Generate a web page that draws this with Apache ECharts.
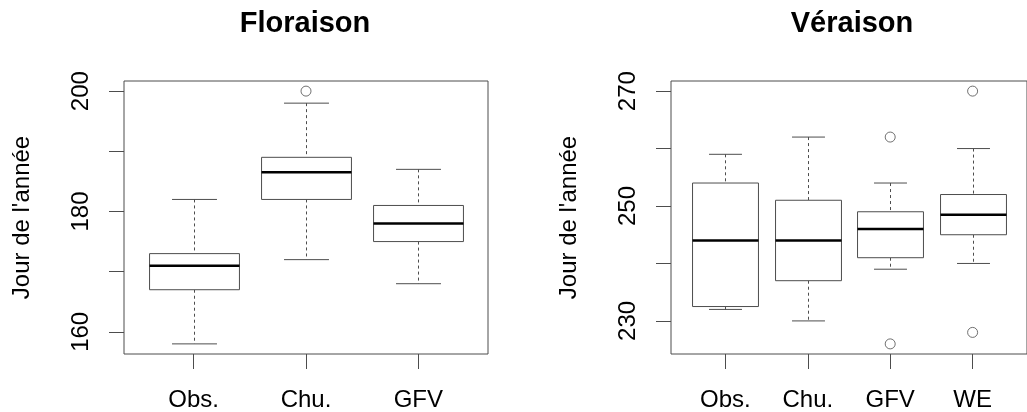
<!DOCTYPE html>
<html>
<head>
<meta charset="utf-8">
<script src="https://cdn.jsdelivr.net/npm/echarts@6/dist/echarts.min.js"></script>
<style>
  html, body { margin: 0; padding: 0; background: #fff; }
  #chart { width: 1027px; height: 412px; }
</style>
</head>
<body>
<div id="chart"></div>
<script>
// Floraison: five-number summaries [lower whisker, Q1, median, Q3, upper whisker]
const floraisonCats = ['Obs.', 'Chu.', 'GFV'];
const floraisonStats = [
  [158, 167, 171, 173, 182],
  [172, 182, 186.5, 189, 198],
  [168, 175, 178, 181, 187]
];
// outliers as [category number (1-based), value]
const floraisonOutliers = [[2, 200]];
const floraisonTicks = [160, 170, 180, 190, 200];
const floraisonLabels = [160, 180, 200];

// Véraison
const veraisonCats = ['Obs.', 'Chu.', 'GFV', 'WE'];
const veraisonStats = [
  [232, 232.5, 244, 254, 259],
  [230, 237, 244, 251, 262],
  [239, 241, 246, 249, 254],
  [240, 245, 248.5, 252, 260]
];
const veraisonOutliers = [[3, 262], [3, 226], [4, 270], [4, 228]];
const veraisonTicks = [230, 240, 250, 260, 270];
const veraisonLabels = [230, 250, 270];

const FONT = 'Liberation Sans, Arial, sans-serif';
const LINE = '#4d4d4d';

// R-style 4% padding of the data range
function padRange(stats, outliers) {
  const vals = stats.flat().concat(outliers.map(o => o[1]));
  const lo = Math.min(...vals), hi = Math.max(...vals);
  const p = (hi - lo) * 0.04;
  return [lo - p, hi + p];
}
function xRange(n) {
  const p = n * 0.04;
  return [0.5 - p, n + 0.5 + p];
}

function renderBox(params, api) {
  const x = api.value(0);
  const low = api.coord([x, api.value(1)]);
  const q1 = api.coord([x, api.value(2)]);
  const med = api.coord([x, api.value(3)]);
  const q3 = api.coord([x, api.value(4)]);
  const high = api.coord([x, api.value(5)]);
  const bw = api.size([0.8, 0])[0];
  const cw = bw / 2;
  const cx = Math.round(low[0]) + 0.5;
  const dash = { stroke: LINE, lineWidth: 1, lineDash: [3, 3] };
  const solid = { stroke: LINE, lineWidth: 1 };
  return {
    type: 'group',
    children: [
      { type: 'line', shape: { x1: cx, y1: high[1], x2: cx, y2: q3[1] }, style: dash },
      { type: 'line', shape: { x1: cx, y1: q1[1], x2: cx, y2: low[1] }, style: dash },
      { type: 'line', shape: { x1: cx - cw / 2, y1: high[1], x2: cx + cw / 2, y2: high[1] }, style: solid },
      { type: 'line', shape: { x1: cx - cw / 2, y1: low[1], x2: cx + cw / 2, y2: low[1] }, style: solid },
      { type: 'rect', shape: { x: cx - bw / 2, y: q3[1], width: bw, height: q1[1] - q3[1] },
        style: { fill: '#fff', stroke: LINE, lineWidth: 1 } },
      { type: 'line', shape: { x1: cx - bw / 2, y1: med[1], x2: cx + bw / 2, y2: med[1] },
        style: { stroke: '#000', lineWidth: 2.5 } }
    ]
  };
}

function panel(idx, left, title, cats, stats, outliers, ticks, labels) {
  const [ymin, ymax] = padRange(stats, outliers);
  const [xmin, xmax] = xRange(cats.length);
  const centre = left + 182;
  return {
    title: {
      text: title, left: centre - 1, top: 9, textAlign: 'center', padding: 0,
      textStyle: { fontFamily: FONT, fontSize: 29, fontWeight: 'bold', color: '#000' }
    },
    grid: {
      left: left, top: 81, width: 364, height: 273,
      show: true, borderColor: LINE, borderWidth: 1, backgroundColor: 'transparent'
    },
    xAxis: {
      type: 'value', gridIndex: idx, min: xmin, max: xmax,
      axisLine: { show: false }, splitLine: { show: false },
      axisTick: { show: true, inside: false, length: 15, customValues: cats.map((c, i) => i + 1),
        lineStyle: { color: LINE } },
      axisLabel: { show: true, customValues: cats.map((c, i) => i + 1), margin: 34,
        formatter: v => cats[Math.round(v) - 1] || '',
        fontFamily: FONT, fontSize: 24, color: '#000' }
    },
    yAxis: {
      type: 'value', gridIndex: idx, min: ymin, max: ymax,
      name: "Jour de l'année", nameLocation: 'middle', nameRotate: 90, nameGap: 90,
      nameTextStyle: { fontFamily: FONT, fontSize: 24, color: '#000' },
      axisLine: { show: false }, splitLine: { show: false },
      axisTick: { show: true, inside: false, length: 15, customValues: ticks,
        lineStyle: { color: LINE } },
      axisLabel: { show: true, customValues: labels, rotate: 90, margin: 31,
        fontFamily: FONT, fontSize: 24, color: '#000' }
    },
    series: [
      {
        type: 'custom', xAxisIndex: idx, yAxisIndex: idx,
        renderItem: renderBox,
        encode: { x: 0, y: [1, 2, 3, 4, 5] },
        data: stats.map((s, i) => [i + 1].concat(s)),
        silent: true
      },
      {
        type: 'scatter', xAxisIndex: idx, yAxisIndex: idx,
        symbol: 'circle', symbolSize: 10,
        itemStyle: { color: 'rgba(255,255,255,0)', borderColor: LINE, borderWidth: 1 },
        data: outliers,
        silent: true
      }
    ]
  };
}

const p1 = panel(0, 124, 'Floraison', floraisonCats, floraisonStats, floraisonOutliers, floraisonTicks, floraisonLabels);
const p2 = panel(1, 671, 'Véraison', veraisonCats, veraisonStats, veraisonOutliers, veraisonTicks, veraisonLabels);

const chart = echarts.init(document.getElementById('chart'), null, { renderer: 'canvas' });
chart.setOption({
  animation: false,
  backgroundColor: '#fff',
  title: [p1.title, p2.title],
  grid: [p1.grid, p2.grid],
  xAxis: [p1.xAxis, p2.xAxis],
  yAxis: [p1.yAxis, p2.yAxis],
  series: p1.series.concat(p2.series)
});
</script>
</body>
</html>
